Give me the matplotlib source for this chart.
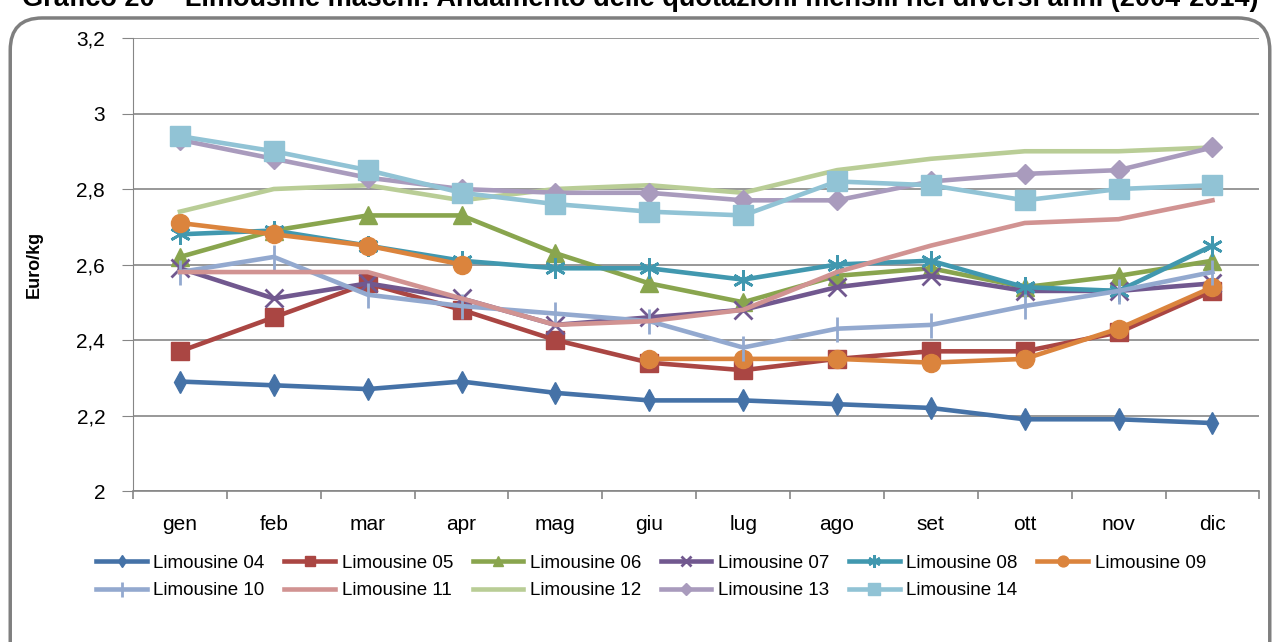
import numpy as np
import matplotlib
matplotlib.use("Agg")
import matplotlib.pyplot as plt
from matplotlib.patches import FancyBboxPatch
from matplotlib.ticker import FuncFormatter

plt.rcParams['font.family'] = ['Liberation Sans', 'DejaVu Sans']

months = ['gen', 'feb', 'mar', 'apr', 'mag', 'giu', 'lug', 'ago', 'set', 'ott', 'nov', 'dic']

lim04 = [2.29, 2.28, 2.27, 2.29, 2.26, 2.24, 2.24, 2.23, 2.22, 2.19, 2.19, 2.18]
lim05 = [2.37, 2.46, 2.55, 2.48, 2.40, 2.34, 2.32, 2.35, 2.37, 2.37, 2.42, 2.53]
lim06 = [2.62, 2.69, 2.73, 2.73, 2.63, 2.55, 2.50, 2.57, 2.59, 2.54, 2.57, 2.61]
lim07 = [2.59, 2.51, 2.55, 2.51, 2.44, 2.46, 2.48, 2.54, 2.57, 2.53, 2.53, 2.55]
lim08 = [2.68, 2.69, 2.65, 2.61, 2.59, 2.59, 2.56, 2.60, 2.61, 2.54, 2.53, 2.65]
lim09 = [2.71, 2.68, 2.65, 2.60, np.nan, 2.35, 2.35, 2.35, 2.34, 2.35, 2.43, 2.54]
lim10 = [2.58, 2.62, 2.52, 2.49, 2.47, 2.45, 2.38, 2.43, 2.44, 2.49, 2.53, 2.58]
lim11 = [2.58, 2.58, 2.58, 2.51, 2.44, 2.45, 2.48, 2.58, 2.65, 2.71, 2.72, 2.77]
lim12 = [2.74, 2.80, 2.81, 2.77, 2.80, 2.81, 2.79, 2.85, 2.88, 2.90, 2.90, 2.91]
lim13 = [2.93, 2.88, 2.83, 2.80, 2.79, 2.79, 2.77, 2.77, 2.82, 2.84, 2.85, 2.91]
lim14 = [2.94, 2.90, 2.85, 2.79, 2.76, 2.74, 2.73, 2.82, 2.81, 2.77, 2.80, 2.81]

labels = ['Limousine 04', 'Limousine 05', 'Limousine 06', 'Limousine 07',
          'Limousine 08', 'Limousine 09', 'Limousine 10', 'Limousine 11',
          'Limousine 12', 'Limousine 13', 'Limousine 14']
series = [lim04, lim05, lim06, lim07, lim08, lim09, lim10, lim11, lim12, lim13, lim14]

# colour, marker, marker size
styles = [
    ('#4572A7', 'd', 11),
    ('#AA4643', 's', 13),
    ('#89A54E', '^', 13),
    ('#71588F', 'x', 13),
    ('#4198AF', (6, 2, 0), 15),
    ('#DB843D', 'o', 13),
    ('#93A9CF', '|', 18),
    ('#D19392', None, 0),
    ('#B9CD96', None, 0),
    ('#A99BBD', 'D', 10),
    ('#91C3D5', 's', 14),
]

fig = plt.figure(figsize=(12.8, 6.42), dpi=100)

# rounded frame round the chart
frame = FancyBboxPatch((0.008, -0.05), 0.984, 1.022, boxstyle="round,pad=0,rounding_size=0.025",
                       transform=fig.transFigure, facecolor='white', edgecolor='#7f7f7f',
                       linewidth=2.5, mutation_aspect=2, zorder=-5)
fig.patches.append(frame)

fig.text(0.5, 0.990, 'Grafico 20 \u2013 Limousine maschi: Andamento delle quotazioni mensili nei diversi anni (2004-2014)',
         ha='center', va='baseline', fontsize=19.5, fontweight='bold')

ax = fig.add_axes([0.1039, 0.2352, 0.880, 0.7056])
ax.patch.set_alpha(0)
x = np.arange(len(months))
handles = []
for vals, lab, (col, mk, ms) in zip(series, labels, styles):
    h, = ax.plot(x, vals, color=col, lw=3.3, marker=mk, markersize=ms,
                 markeredgewidth=2 if mk in ('x', '|') or isinstance(mk, tuple) else 1,
                 markeredgecolor=col, label=lab, solid_joinstyle='round')
    handles.append(h)

ax.set_xlim(-0.5, 11.5)
ax.set_ylim(2.0, 3.2)
ax.set_yticks(np.arange(2.0, 3.21, 0.2))
ax.yaxis.set_major_formatter(FuncFormatter(lambda v, p: f'{v:.1f}'.rstrip('0').rstrip('.').replace('.', ',')))
ax.set_xticks(x)
ax.set_xticklabels(months)
ax.set_xticks(np.arange(-0.5, 12, 1), minor=True)
ax.tick_params(axis='x', which='major', length=0, labelsize=15, pad=17)
ax.tick_params(axis='x', which='minor', length=6, color='#868686', width=1.2)
ax.tick_params(axis='y', length=8, color='#868686', labelsize=15, pad=12)
ax.grid(axis='y', color='#868686', lw=1.2)
ax.set_axisbelow(True)
for s in ['top', 'right']:
    ax.spines[s].set_visible(False)
ax.spines['left'].set_color('#868686')
ax.spines['bottom'].set_color('#868686')
ax.spines['bottom'].set_linewidth(1.2)
ax.set_ylabel('Euro/kg', fontsize=13, fontweight='bold', labelpad=24)

# legend fills by column, so interleave to get two rows 04-09 / 10-14
order = [0, 6, 1, 7, 2, 8, 3, 9, 4, 10, 5]
fig.legend([handles[i] for i in order], [labels[i] for i in order],
           loc='upper left', bbox_to_anchor=(0.062, 0.162), ncol=6, frameon=False,
           fontsize=13.5, handlelength=2.7, columnspacing=1.05, handletextpad=0.35,
           labelspacing=0.55, markerscale=0.6)

fig.savefig('out.png', dpi=100)
